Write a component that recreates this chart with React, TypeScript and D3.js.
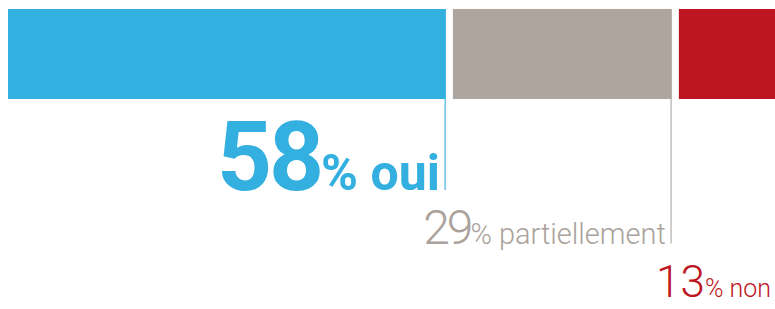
import React, { useRef, useEffect } from 'react';
import * as d3 from 'd3';

const categories = ['oui', 'partiellement', 'non'];
const values = [58, 29, 13];
const colors = ['#33afe0', '#aea59e', '#be1522'];
const textColors = ['#33afe0', '#aaa29b', '#be1522'];
const lineColors = ['#6cc4ea', '#c4beb9', '#be1522'];

const W = 775;
const H = 309;

const App: React.FC = () => {
  const svgRef = useRef<SVGSVGElement>(null);

  useEffect(() => {
    if (!svgRef.current) return;
    const svg = d3.select(svgRef.current);
    svg.selectAll('*').remove();

    const gap = 7;
    const barTop = 9;
    const barH = 90;

    // share scale (percent -> px)
    const x = d3.scaleLinear().domain([0, 100]).range([8, 763]);
    // label baselines stepped down per category
    const yLabel = d3.scalePoint<string>().domain(categories).range([190, 297]);

    const cum = d3.cumsum(values);
    const rows = categories.map((c, i) => {
      const x0 = x(cum[i] - values[i]) + i * gap;
      const x1 = x(cum[i]) + i * gap;
      return { c, v: values[i], i, x0, x1 };
    });

    svg
      .selectAll('rect.bar')
      .data(rows)
      .enter()
      .append('rect')
      .attr('class', 'bar')
      .attr('x', (d) => d.x0)
      .attr('y', barTop)
      .attr('width', (d) => d.x1 - d.x0)
      .attr('height', barH)
      .attr('fill', (d) => colors[d.i]);

    // leader lines
    svg
      .selectAll('line.lead')
      .data(rows)
      .enter()
      .append('line')
      .attr('class', 'lead')
      .attr('x1', (d) => d.x1 - 0.75)
      .attr('x2', (d) => d.x1 - 0.75)
      .attr('y1', barTop + barH)
      .attr('y2', (d) => yLabel(d.c)!)
      .attr('stroke', (d) => lineColors[d.i])
      .attr('stroke-width', 1.5);

    const big = [96, 48, 44];
    const small = [50, 29, 25];
    const weight = [700, 300, 300];
    const spacing = [-3, -3, 0];

    const labels = svg
      .selectAll('text.lbl')
      .data(rows)
      .enter()
      .append('text')
      .attr('class', 'lbl')
      .attr('x', (d) => d.x1 - 6)
      .attr('y', (d) => yLabel(d.c)!)
      .attr('text-anchor', 'end')
      .attr('font-family', 'Roboto, sans-serif')
      .attr('fill', (d) => textColors[d.i])
      .attr('font-weight', (d) => weight[d.i]);

    labels
      .append('tspan')
      .attr('font-size', (d) => big[d.i])
      .attr('letter-spacing', (d) => spacing[d.i])
      .text((d) => String(d.v));

    labels
      .append('tspan')
      .attr('font-size', (d) => small[d.i])
      .text((d) => `% ${d.c}`);
  }, []);

  return (
    <svg
      ref={svgRef}
      width={W}
      height={H}
      style={{ position: 'absolute', left: 0, top: 0, background: '#fff' }}
    />
  );
};

export default App;
